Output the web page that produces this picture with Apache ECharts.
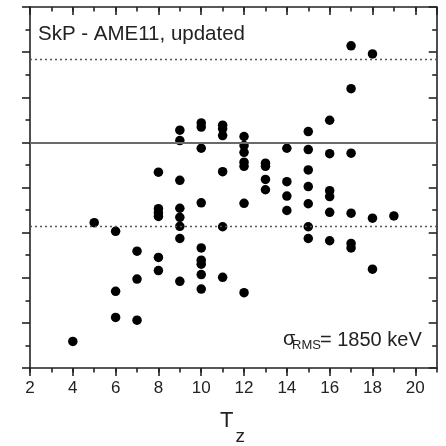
<!DOCTYPE html>
<html><head><meta charset="utf-8">
<script src="https://cdn.jsdelivr.net/npm/echarts@6/dist/echarts.min.js"></script>
<style>html,body{margin:0;padding:0;background:#fff}#c{width:446px;height:446px}</style>
</head><body><div id="c"></div>
<script>
// T_z of each nucleus
const tz = [
  4,
  5,
  6, 6, 6,
  7, 7, 7,
  8, 8, 8, 8, 8, 8,
  9, 9, 9, 9, 9, 9, 9, 9,
  10, 10, 10, 10, 10, 10, 10, 10, 10,
  11, 11, 11, 11, 11, 11,
  12, 12, 12, 12, 12, 12, 12,
  13, 13, 13, 13,
  14, 14, 14, 14,
  15, 15, 15, 15, 15, 15, 15,
  16, 16, 16, 16, 16, 16,
  17, 17, 17, 17, 17, 17,
  18, 18, 18,
  19
];
// deviation (MeV) of each nucleus
const deltaMeV = [
  -4.41,
  -1.78,
  -1.97, -3.30, -3.88,
  -2.41, -3.03, -3.94,
  -0.66, -1.47, -1.56, -1.64, -2.55, -2.84,
  0.27, 0.04, -0.84, -1.46, -1.66, -1.86, -2.13, -3.08,
  0.43, 0.34, -0.13, -1.34, -2.34, -2.61, -2.70, -2.93, -3.25,
  0.38, 0.30, 0.15, -0.65, -1.87, -2.99,
  0.13, -0.07, -0.22, -0.44, -0.53, -1.35, -3.33,
  -0.46, -0.53, -0.82, -1.05,
  -0.13, -0.87, -1.19, -1.51,
  0.24, -0.16, -0.61, -0.98, -1.36, -1.87, -2.13,
  0.49, -0.25, -1.07, -1.20, -1.55, -2.18,
  2.14, 1.19, -0.24, -1.57, -2.24, -2.34,
  1.96, -1.68, -2.81,
  -1.63
];
const rmsKeV = 1850;
const xMin = 2, xMax = 21, xMajor = 2;
const yMin = -5, yMax = 3, yMajor = 1;
const titleText = 'SkP - AME11, updated';

const FONT = 'Liberation Sans, Arial, sans-serif';
const LC = '#222';

function xAx(pos, major, inside) {
  return {
    type: 'value', position: pos, min: xMin, max: xMax, interval: major ? xMajor : 1,
    axisLine: { show: major, onZero: false, lineStyle: { color: LC, width: 1.6 } },
    axisTick: { show: true, inside: inside, length: major ? 8 : 4.5, lineStyle: { color: LC, width: 1.6 } },
    axisLabel: { show: pos === 'bottom' && major, margin: 12, fontSize: 17, color: '#222', fontFamily: FONT, showMaxLabel: false },
    splitLine: { show: false }
  };
}
function yAx(pos, inside) {
  return {
    type: 'value', position: pos, min: yMin, max: yMax, interval: yMajor,
    axisLine: { show: true, onZero: false, lineStyle: { color: LC, width: 1.6 } },
    axisTick: { show: true, inside: inside, length: 8, lineStyle: { color: LC, width: 1.6 } },
    minorTick: { show: true, splitNumber: 2, length: 4.5, lineStyle: { color: LC, width: 1.6 } },
    axisLabel: { show: false },
    splitLine: { show: false }, minorSplitLine: { show: false }
  };
}

const chart = echarts.init(document.getElementById('c'), null, { renderer: 'canvas' });
chart.setOption({
  animation: false,
  backgroundColor: '#fff',
  grid: { left: 30, right: 9.3, top: 7, bottom: 78 },
  xAxis: [xAx('bottom', true, false), xAx('bottom', false, false), xAx('top', true, true), xAx('top', false, true)],
  yAxis: [yAx('left', false), yAx('right', true)],
  series: [
    {
      type: 'scatter', data: [], z: 1,
      markLine: {
        silent: true, symbol: 'none', label: { show: false }, animation: false,
        data: [
          { yAxis: 0, lineStyle: { color: '#6a6a6a', width: 1.8, type: 'solid' } },
          { yAxis: rmsKeV / 1000, lineStyle: { color: '#555', width: 1.3, type: [2, 3] } },
          { yAxis: -rmsKeV / 1000, lineStyle: { color: '#555', width: 1.3, type: [2, 3] } }
        ]
      }
    },
    {
      type: 'scatter', z: 3, symbol: 'circle', symbolSize: 9.5,
      itemStyle: { color: '#000', opacity: 1 },
      data: tz.map((x, i) => [x, deltaMeV[i]])
    }
  ],
  graphic: [
    { type: 'text', left: 38, top: 24, style: { text: titleText, font: '20.5px ' + FONT, fill: '#222' } },
    { type: 'text', x: 283, y: 339, style: { text: 'σ', font: '20px ' + FONT, fill: '#222', verticalAlign: 'middle' } },
    { type: 'text', x: 292, y: 345, style: { text: 'RMS', font: '13px ' + FONT, fill: '#222', verticalAlign: 'middle' } },
    { type: 'text', x: 320, y: 340, style: { text: '= ' + rmsKeV + ' keV', font: '20px ' + FONT, fill: '#222', verticalAlign: 'middle' } },
    { type: 'text', x: 220, y: 421, style: { text: 'T', font: '22px ' + FONT, fill: '#222', verticalAlign: 'middle' } },
    { type: 'text', x: 235.5, y: 436.5, style: { text: 'z', font: '19px ' + FONT, fill: '#222', verticalAlign: 'middle' } }
  ]
});
</script>
</body></html>
